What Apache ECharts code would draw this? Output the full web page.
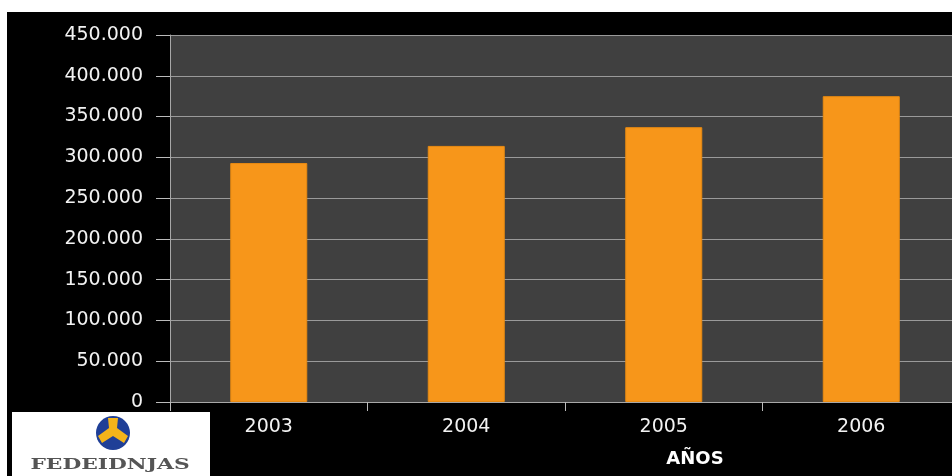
<!DOCTYPE html>
<html>
<head>
<meta charset="utf-8">
<script src="https://cdn.jsdelivr.net/npm/echarts@6/dist/echarts.min.js"></script>
<style>
html,body{margin:0;padding:0;background:#fff;overflow:hidden;width:952px;height:476px;}
#c{width:960px;height:476px;}
</style>
</head>
<body>
<div id="c"></div>
<script>
const categories = ['2003', '2004', '2005', '2006'];
const values = [293000, 314000, 337000, 375000];
const yTicks = [0, 50000, 100000, 150000, 200000, 250000, 300000, 350000, 400000, 450000];
const axisName = 'AÑOS';
const logoText = 'FEDEIDNJAS';

function fmt(v) {
  return String(v).replace(/\B(?=(\d{3})+(?!\d))/g, '.');
}

const chart = echarts.init(document.getElementById('c'), null, {renderer: 'canvas'});
chart.setOption({
  animation: false,
  backgroundColor: '#ffffff',
  grid: {
    left: 170, top: 35, right: 0, height: 367,
    show: true, backgroundColor: '#404040', borderWidth: 0
  },
  xAxis: {
    type: 'category',
    data: categories,
    axisLine: {show: true, lineStyle: {color: '#a8a8a8', width: 1}},
    axisTick: {show: true, alignWithLabel: false, length: 9, lineStyle: {color: '#bbbbbb'}},
    axisLabel: {color: '#f2f2f2', fontFamily: 'DejaVu Sans', fontSize: 19, margin: 16},
    splitLine: {show: false}
  },
  yAxis: {
    type: 'value',
    min: yTicks[0],
    max: yTicks[yTicks.length - 1],
    interval: yTicks[1] - yTicks[0],
    axisLine: {show: true, lineStyle: {color: '#a8a8a8', width: 1}},
    axisTick: {show: true, length: 14, lineStyle: {color: '#bbbbbb'}},
    axisLabel: {color: '#f2f2f2', fontFamily: 'DejaVu Sans', fontSize: 19, margin: 27,
      formatter: v => fmt(v)},
    splitLine: {show: true, lineStyle: {color: '#9a9a9a', width: 1}}
  },
  series: [{
    type: 'bar',
    data: values,
    barWidth: 77,
    itemStyle: {color: '#F7961A', borderColor: '#E88A12', borderWidth: 1},
    z: 3
  }],
  graphic: [
    {type: 'rect', z: -100, silent: true, shape: {x: 7, y: 12, width: 953, height: 464}, style: {fill: '#000000'}},
    {type: 'rect', z: 100, shape: {x: 12, y: 412, width: 198, height: 64}, style: {fill: '#ffffff'}},
    {type: 'circle', z: 101, shape: {cx: 113, cy: 433, r: 17}, style: {fill: '#1f3f97'}},
    {type: 'polygon', z: 102, shape: {points: [[108, 418], [118, 418], [117, 428], [128, 436], [124, 443], [113, 436], [102, 443], [98, 436], [109, 428]]}, style: {fill: '#f4b41a'}},
    {type: 'text', z: 102, x: 110, y: 465, scaleX: 1.45,
      style: {text: logoText, fill: '#555555', font: 'bold 15px "DejaVu Serif"', textAlign: 'center', textVerticalAlign: 'middle'}},
    {type: 'text', z: 102, x: 695, y: 459,
      style: {text: axisName, fill: '#ffffff', font: 'bold 18px "DejaVu Sans"', textAlign: 'center', textVerticalAlign: 'middle'}}
  ]
});
</script>
</body>
</html>
